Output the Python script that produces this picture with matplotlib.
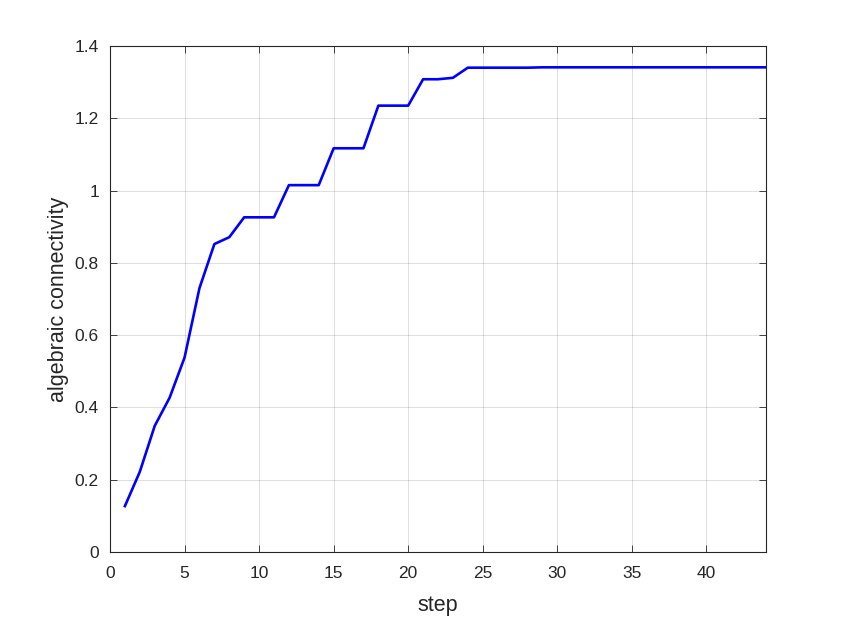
import matplotlib
matplotlib.use("Agg")
import matplotlib.pyplot as plt

steps = list(range(1, 45))
conn_head = [0.127, 0.222, 0.349, 0.427, 0.538, 0.730, 0.852, 0.871, 0.926, 0.926,
             0.926, 1.015, 1.015, 1.015, 1.117, 1.117, 1.117, 1.235, 1.235, 1.235,
             1.308, 1.308, 1.312, 1.340]
conn_tail = [1.340] * 4 + [1.341] * 16
conn = conn_head + conn_tail

xticks = [0, 5, 10, 15, 20, 25, 30, 35, 40]
yticks = [0, 0.2, 0.4, 0.6, 0.8, 1.0, 1.2, 1.4]
ytick_labels = ["0", "0.2", "0.4", "0.6", "0.8", "1", "1.2", "1.4"]

plt.rcParams['font.family'] = ['Liberation Sans', 'DejaVu Sans']
fig = plt.figure(figsize=(8.48, 6.2), dpi=100)
ax = fig.add_axes([110/848, 1-552/620, (766-110)/848, (552-46)/620])
ax.plot(steps, conn, color='#0000ff', linewidth=1.9)
ax.set_xlim(0, 44)
ax.set_ylim(0, 1.4)
ax.set_xticks(xticks)
ax.set_yticks(yticks)
ax.set_yticklabels(ytick_labels)
ax.grid(True, color='#000000', alpha=0.15, linewidth=0.6)
ax.set_axisbelow(True)
ax.tick_params(direction='in', length=5, width=0.6, colors='#262626', labelsize=12.5,
               top=True, right=True, labeltop=False, labelright=False)
ax.tick_params(axis='x', pad=10)
ax.tick_params(axis='y', pad=8)
for s in ax.spines.values():
    s.set_color('#262626')
    s.set_linewidth(0.8)
ax.set_xlabel('step', fontsize=15.5, color='#262626', labelpad=10)
ax.set_ylabel('algebraic connectivity', fontsize=15.5, color='#262626', labelpad=4)
fig.savefig('out.png', dpi=100)
